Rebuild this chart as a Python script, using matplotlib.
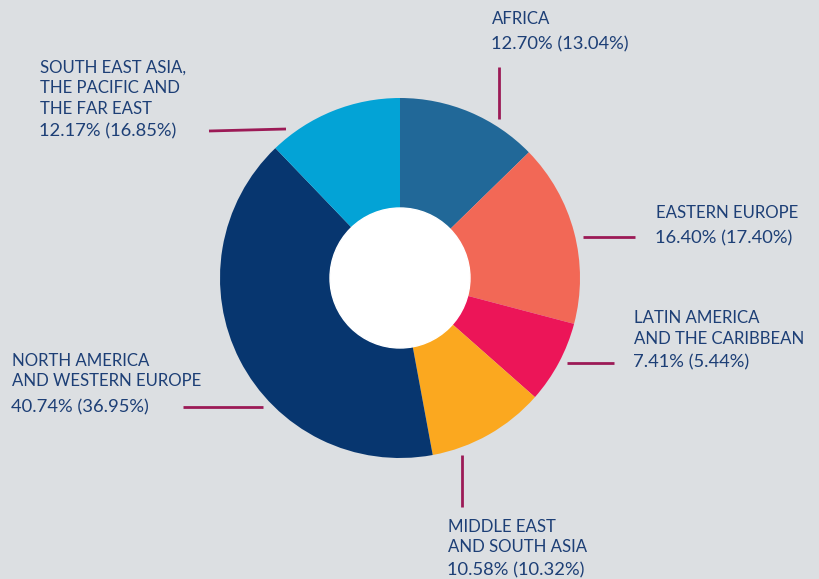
import matplotlib.pyplot as plt
from matplotlib.patches import Circle

# Regional shares, clockwise from 12 o'clock
regions = ['AFRICA', 'EASTERN EUROPE', 'LATIN AMERICA\nAND THE CARIBBEAN',
           'MIDDLE EAST\nAND SOUTH ASIA', 'NORTH AMERICA\nAND WESTERN EUROPE',
           'SOUTH EAST ASIA,\nTHE PACIFIC AND\nTHE FAR EAST']
shares = [12.70, 16.40, 7.41, 10.58, 40.74, 12.17]
previous = [13.04, 17.40, 5.44, 10.32, 36.95, 16.85]

colors = ['#216898', '#f26856', '#ec1558', '#fba81f', '#07366f', '#03a3d6']
bg = '#dcdfe2'
ink = '#1d3f76'
leader = '#9c1a56'

W, H = 820, 579
fig = plt.figure(figsize=(W / 100, H / 100), dpi=100, facecolor=bg)
ax = fig.add_axes([0, 0, 1, 1])

cx, cy, r = 400, H - 278, 180
ax.pie(shares, colors=colors, startangle=90, counterclock=False,
       radius=r, center=(cx, cy), frame=True,
       wedgeprops=dict(linewidth=0))
ax.add_patch(Circle((cx, cy), 70, color='white', zorder=3))
ax.set_xlim(0, W)
ax.set_ylim(0, H)
ax.set_aspect('equal')
ax.axis('off')

# leader lines (pixel coordinates, y measured from top)
lines = [
    ((499, 67), (499, 119)),
    ((583, 237), (635, 237)),
    ((567, 363), (614, 363)),
    ((462, 455), (462, 507)),
    ((183, 407), (263, 407)),
    ((209, 131), (286, 129)),
]
for (x0, y0), (x1, y1) in lines:
    ax.plot([x0, x1], [H - y0, H - y1], color=leader, lw=2, solid_capstyle='butt')

# label positions: left x, centre of first name line, centre of value line
anchors = [(492, 19, 44), (656, 213, 238), (634, 318, 362),
           (448, 527, 570), (12, 361, 407), (40, 68, 131)]
for name, s, p, (x, y_name, y_val) in zip(regions, shares, previous, anchors):
    for i, part in enumerate(name.split('\n')):
        ax.text(x, H - (y_name + i * 20.5), part, ha='left', va='center',
                color=ink, fontsize=12.1, family='Lato')
    ax.text(x - 1, H - y_val, f'{s:.2f}% ({p:.2f}%)', ha='left', va='center',
            color=ink, fontsize=13.2, family='Lato')

fig.savefig('out.png', dpi=100, facecolor=bg)
